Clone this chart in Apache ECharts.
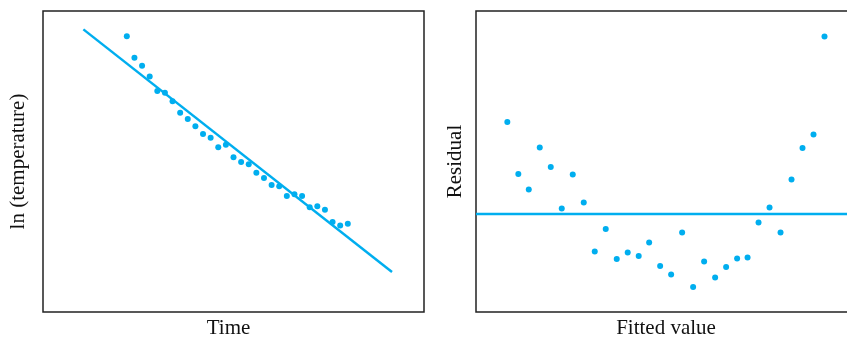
<!DOCTYPE html>
<html><head><meta charset="utf-8">
<script src="https://cdn.jsdelivr.net/npm/echarts@6/dist/echarts.min.js"></script>
<style>html,body{margin:0;padding:0;background:#fff}#c{width:847px;height:338px}</style>
</head><body><div id="c"></div>
<script>
// Left panel: ln(temperature) vs time
const timeValues = [1,2,3,4,5,6,7,8,9,10,11,12,13,14,15,16,17,18,19,20,21,22,23,24,25,26,27,28,29,30];
const lnTemp = [9.16,8.45,8.18,7.82,7.34,7.28,7.00,6.62,6.41,6.17,5.91,5.79,5.47,5.56,5.14,4.98,4.91,4.63,4.45,4.22,4.18,3.85,3.91,3.85,3.48,3.51,3.40,2.99,2.87,2.93];
const fitLineTime = [-4.7, 35.8];
const fitLineValue = [9.39, 1.33];
// Right panel: residual vs fitted value
const fittedValues = [2.48,2.68,2.87,3.07,3.27,3.47,3.67,3.87,4.07,4.27,4.47,4.67,4.87,5.06,5.26,5.46,5.66,5.86,6.06,6.26,6.46,6.66,6.85,7.05,7.25,7.45,7.65,7.85,8.05,8.25];
const residuals = [0.184,0.080,0.049,0.133,0.094,0.011,0.079,0.023,-0.075,-0.030,-0.090,-0.077,-0.084,-0.057,-0.104,-0.121,-0.037,-0.146,-0.095,-0.127,-0.106,-0.089,-0.087,-0.017,0.013,-0.037,0.069,0.132,0.159,0.355];
const zeroLineX = [1.91, 8.80];
const zeroLineY = [0, 0];

const C = '#00aeef';
const font = 'Liberation Serif, Times New Roman, serif';
const chart = echarts.init(document.getElementById('c'));
const hiddenAxis = (extra) => Object.assign({
  type: 'value', axisLine: {show: false}, axisTick: {show: false},
  axisLabel: {show: false}, splitLine: {show: false},
  nameLocation: 'middle',
  nameTextStyle: {fontFamily: font, fontSize: 21, color: '#111'}
}, extra);
chart.setOption({
  animation: false,
  grid: [
    {left: 43, top: 11, width: 381, height: 301, show: true, borderColor: '#222', borderWidth: 1.5, backgroundColor: 'transparent', outerBoundsMode: 'none', containLabel: false},
    {left: 476, top: 11, width: 380, height: 301, show: true, borderColor: '#222', borderWidth: 1.5, backgroundColor: 'transparent', outerBoundsMode: 'none', containLabel: false}
  ],
  xAxis: [
    hiddenAxis({gridIndex: 0, min: -10, max: 40, name: 'Time', nameGap: 6,
      nameTextStyle: {fontFamily: font, fontSize: 21, color: '#111', padding: [0, 10, 0, 0]}}),
    hiddenAxis({gridIndex: 1, min: 1.91, max: 1.91 + 380/54.97, name: 'Fitted value', nameGap: 6})
  ],
  yAxis: [
    hiddenAxis({gridIndex: 0, min: 0, max: 10, name: 'ln (temperature)', nameGap: 14}),
    hiddenAxis({gridIndex: 1, min: -0.196, max: 0.406, name: 'Residual', nameGap: 10})
  ],
  series: [
    {type: 'line', xAxisIndex: 0, yAxisIndex: 0, data: fitLineTime.map((t, i) => [t, fitLineValue[i]]),
     symbol: 'none', lineStyle: {color: C, width: 2.5}},
    {type: 'scatter', xAxisIndex: 0, yAxisIndex: 0, data: timeValues.map((t, i) => [t, lnTemp[i]]),
     symbolSize: 6, itemStyle: {color: C, opacity: 1}},
    {type: 'line', xAxisIndex: 1, yAxisIndex: 1, data: zeroLineX.map((x, i) => [x, zeroLineY[i]]),
     symbol: 'none', lineStyle: {color: C, width: 2.5}},
    {type: 'scatter', xAxisIndex: 1, yAxisIndex: 1, data: fittedValues.map((x, i) => [x, residuals[i]]),
     symbolSize: 6, itemStyle: {color: C, opacity: 1}}
  ]
});
</script></body></html>
